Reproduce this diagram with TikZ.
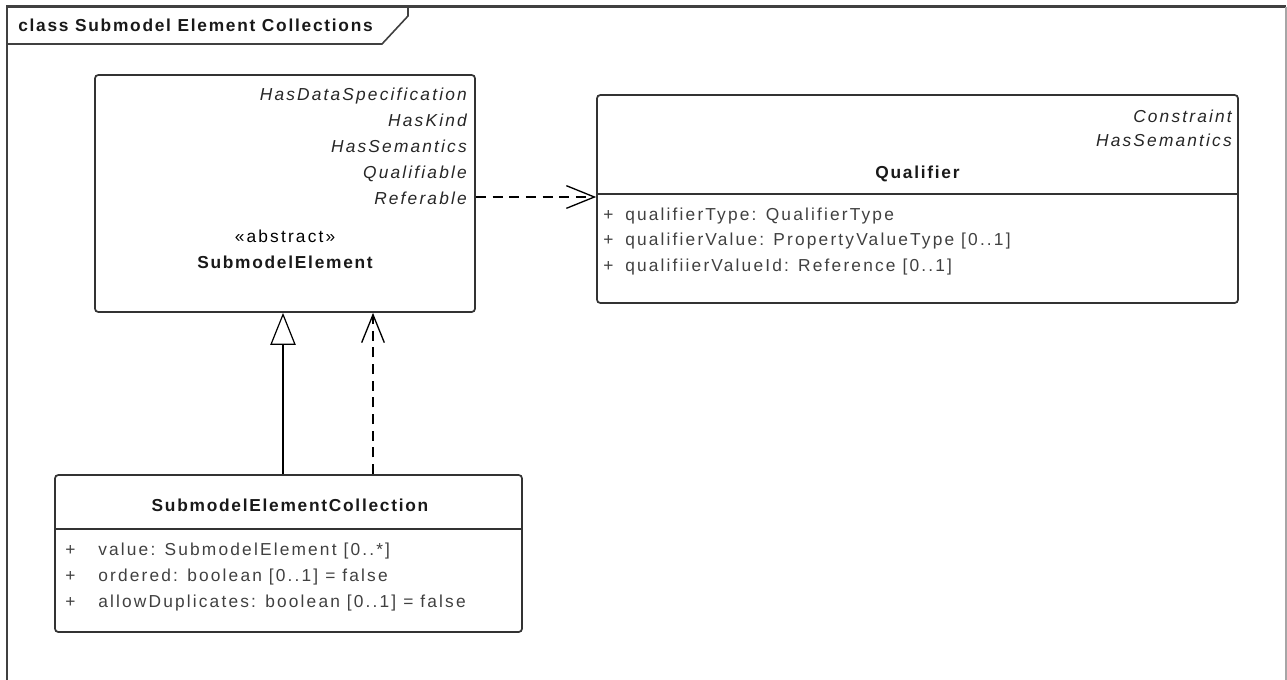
\documentclass[tikz,border=0pt]{standalone}
\usepackage{fontspec}
\setmainfont[LetterSpace=12.5, BoldFeatures={LetterSpace=10}]{Liberation Sans}
\usetikzlibrary{arrows.meta}

\newcommand\umlsize{\fontsize{13pt}{15pt}\selectfont}

\tikzset{
  classbox/.style={draw=black!80, line width=1.3pt, rounded corners=2.5pt, inner sep=0pt},
  stereo/.style={anchor=base east, inner sep=0pt, font=\umlsize\itshape, text=black!85},
  attr/.style={anchor=base west, inner sep=0pt, font=\umlsize, text=black!75},
  classname/.style={anchor=base, inner sep=0pt, font=\umlsize\bfseries, text=black!90},
  gen/.style={-{Triangle[open, length=24pt, width=19pt, line width=0.9pt]}, line width=0.9pt},
  dep/.style={-{Straight Barb[length=21pt, width=17pt, line width=1pt]}, line width=1pt,
    dash pattern=on 7.5pt off 5pt}
}

\begin{document}
\begin{tikzpicture}[x=0.75pt, y=-0.75pt]
  \useasboundingbox (0,0) rectangle (1287,679);
  % frame
  \draw[black!75, line width=2pt] (7,690) -- (7,6.5) -- (1286,6.5);
  \draw[black!35, line width=1pt] (1286,6.5) -- (1286,690);
  \draw[black!75, line width=1.2pt] (7,44) -- (382,44) -- (408,16) -- (408,6.5);
  \node[anchor=base west, inner sep=0pt, font=\umlsize\bfseries, text=black!90] (frametitle) at (18,31) {class Submodel Element Collections};

  % SubmodelElement
  \node[classbox, minimum width=285pt, minimum height=177.75pt] (elem) at (285,193.5) {};
  \node[stereo] (hasdata) at (467,100) {HasDataSpecification};
  \node[stereo] (haskind) at (467,126) {HasKind};
  \node[stereo] (hassem) at (467,152) {HasSemantics};
  \node[stereo] (qualif) at (467,178) {Qualifiable};
  \node[stereo] (refer) at (467,204) {Referable};
  \node[anchor=base, inner sep=0pt, font=\umlsize] (abstr) at (285,242) {«abstract»};
  \node[classname] (elemname) at (285,268) {SubmodelElement};

  % Qualifier
  \node[classbox, minimum width=480.75pt, minimum height=156pt] (qual) at (917.5,199) {};
  \draw[black!80, line width=1.3pt] (qual.west |- 0,194) -- (qual.east |- 0,194);
  \node[stereo] (constr) at (1232,122) {Constraint};
  \node[stereo] (qualsem) at (1232,146) {HasSemantics};
  \node[classname] (qualname) at (917.5,178) {Qualifier};
  \foreach \y/\txt [count=\i] in {220/{qualifierType: QualifierType},
      245.5/{qualifierValue: PropertyValueType [0..1]},
      271/{qualifiierValueId: Reference [0..1]}} {
    \node[attr] (qplus\i) at (603,\y) {+};
    \node[attr] (qattr\i) at (625,\y) {\txt};
  }

  % SubmodelElementCollection
  \node[classbox, minimum width=350.25pt, minimum height=117.75pt] (coll) at (288.5,553.5) {};
  \draw[black!80, line width=1.3pt] (coll.west |- 0,529) -- (coll.east |- 0,529);
  \node[classname] (collname) at (290,511) {SubmodelElementCollection};
  \foreach \y/\txt [count=\i] in {555/{value: SubmodelElement [0..*]},
      581/{ordered: boolean [0..1] = false},
      607/{allowDuplicates: boolean [0..1] = false}} {
    \node[attr] (cplus\i) at (65,\y) {+};
    \node[attr] (cattr\i) at (98,\y) {\txt};
  }

  % connectors
  \draw[dep] (elem.east |- 0,197) -- (qual.west |- 0,197);
  \draw[gen] (coll.north -| 283,0) -- (elem.south -| 283,0);
  \draw[dep] (coll.north -| 373,0) -- (elem.south -| 373,0);
\end{tikzpicture}
\end{document}
